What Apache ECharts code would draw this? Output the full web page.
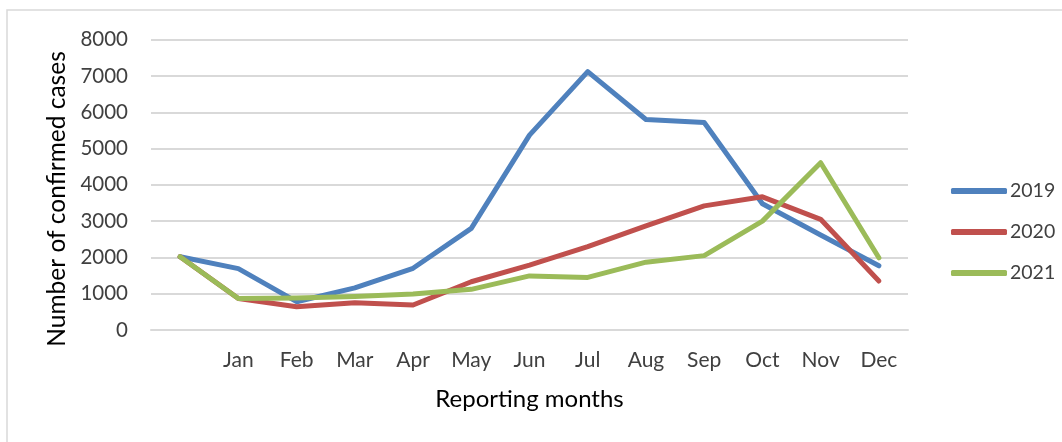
<!DOCTYPE html>
<html>
<head>
<meta charset="utf-8">
<title>Confirmed cases by month</title>
<script src="https://cdn.jsdelivr.net/npm/echarts@6/dist/echarts.min.js"></script>
<style>
  html, body { margin: 0; padding: 0; background: #fff; }
  #chart { width: 1062px; height: 442px; }
</style>
</head>
<body>
<div id="chart"></div>
<script>
// first category is blank in the original (starting point)
var months = ['', 'Jan', 'Feb', 'Mar', 'Apr', 'May', 'Jun', 'Jul', 'Aug', 'Sep', 'Oct', 'Nov', 'Dec']
var cases2019 = [2020, 1690, 780, 1160, 1700, 2800, 5370, 7120, 5800, 5720, 3480, 2620, 1770]
var cases2020 = [2020, 870, 640, 750, 690, 1330, 1790, 2300, 2870, 3420, 3670, 3050, 1350]
var cases2021 = [2020, 870, 880, 920, 990, 1120, 1490, 1450, 1870, 2050, 3000, 4610, 1990]
var yTicks = [0, 1000, 2000, 3000, 4000, 5000, 6000, 7000, 8000]

var chart = echarts.init(document.getElementById('chart'))

function lineSeries (name, color, data) {
  return {
    name: name,
    type: 'line',
    data: data,
    symbol: 'none',
    showSymbol: false,
    lineStyle: { color: color, width: 5, cap: 'round', join: 'round' },
    itemStyle: { color: color },
    emphasis: { disabled: true }
  }
}

chart.setOption({
  animation: false,
  textStyle: { fontFamily: 'Lato' },
  graphic: [{
    type: 'rect',
    shape: { x: 7, y: 10, width: 1100, height: 500 },
    style: { fill: 'none', stroke: '#d9d9d9', lineWidth: 1.5 },
    silent: true
  }, {
    // y axis title, placed lower than the grid middle as in the original
    type: 'text',
    x: 57,
    y: 199,
    rotation: Math.PI / 2,
    style: {
      text: 'Number of confirmed cases',
      fontFamily: 'Lato',
      fontSize: 24.5,
      fill: '#000',
      align: 'center',
      verticalAlign: 'middle'
    },
    silent: true
  }],
  grid: {
    left: 151,
    right: 154,
    top: 39.7,
    bottom: 112
  },
  legend: {
    orient: 'vertical',
    left: 946,
    top: 176,
    icon: 'roundRect',
    itemWidth: 56,
    itemHeight: 6,
    itemGap: 21,
    textStyle: { fontFamily: 'Lato', fontSize: 19.5, color: '#404040', padding: [0, 0, 0, -2] },
    data: ['2019', '2020', '2021']
  },
  xAxis: {
    type: 'category',
    data: months,
    boundaryGap: true,
    name: 'Reporting months',
    nameLocation: 'middle',
    nameGap: 57,
    nameTextStyle: { fontFamily: 'Lato', fontSize: 24, color: '#000' },
    axisLine: { show: true, lineStyle: { color: '#d9d9d9', width: 2 } },
    axisTick: { show: false },
    axisLabel: { fontFamily: 'Lato', fontSize: 21, color: '#404040', margin: 20, interval: 0 }
  },
  yAxis: {
    type: 'value',
    min: yTicks[0],
    max: yTicks[yTicks.length - 1],
    interval: 1000,
    axisLine: { show: false },
    axisTick: { show: false },
    axisLabel: {
      fontFamily: 'Lato',
      fontSize: 20.5,
      color: '#404040',
      margin: 23,
      formatter: function (v) { return String(v) }
    },
    splitLine: { lineStyle: { color: '#d9d9d9', width: 2 } }
  },
  series: [
    lineSeries('2019', '#4f81bd', cases2019),
    lineSeries('2020', '#c0504d', cases2020),
    lineSeries('2021', '#9bbb59', cases2021)
  ]
})
</script>
</body>
</html>
